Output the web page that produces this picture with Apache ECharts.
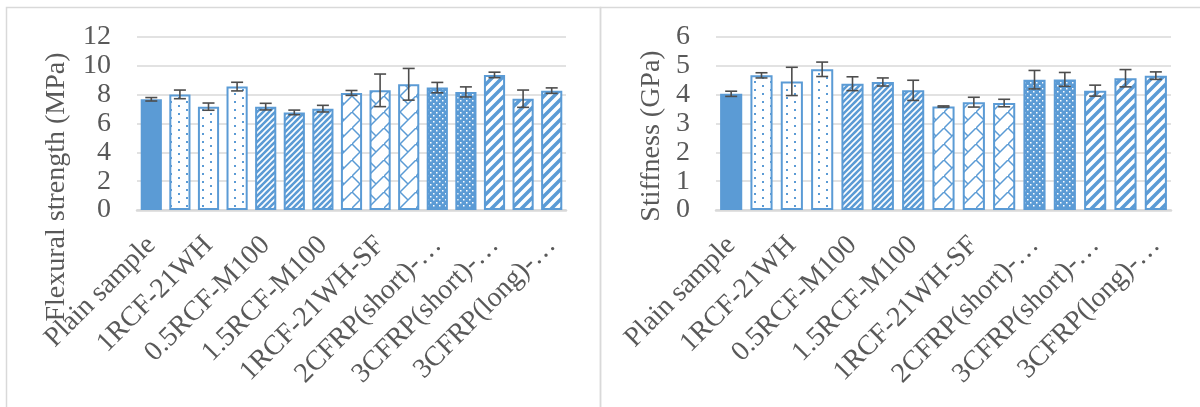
<!DOCTYPE html>
<html>
<head>
<meta charset="utf-8">
<script src="https://cdn.jsdelivr.net/npm/echarts@6/dist/echarts.min.js"></script>
<style>
  html, body { margin: 0; padding: 0; background: #ffffff; }
  #chart { width: 1200px; height: 407px; }
</style>
</head>
<body>
<div id="chart"></div>
<script>
// ==============================
// 数据
// ==============================
const categories = [
  'Plain sample', '0.5RCF-21WH', '1RCF-21WH', '1.5RCF-21WH',
  '0.5RCF-M100', '1RCF-M100', '1.5RCF-M100',
  '0.5RCF-21WH-SF', '1RCF-21WH-SF', '1.5RCF-21WH-SF',
  '2CFRP(short)-…', '2CFRP(long)-…', '3CFRP(short)-…', '3CFRP(mid)-…', '3CFRP(long)-…'
];

const flexMean = [7.68, 8.02, 7.17, 8.56, 7.17, 6.77, 7.03, 8.12, 8.30, 8.72, 8.49, 8.19, 9.37, 7.72, 8.28];
const flexErr  = [0.12, 0.30, 0.25, 0.30, 0.23, 0.16, 0.23, 0.17, 1.13, 1.10, 0.36, 0.35, 0.19, 0.60, 0.19];

const stiffMean = [4.03, 4.67, 4.46, 4.88, 4.38, 4.44, 4.15, 3.59, 3.74, 3.71, 4.52, 4.53, 4.14, 4.57, 4.66];
const stiffErr  = [0.09, 0.09, 0.49, 0.25, 0.24, 0.14, 0.35, 0.02, 0.17, 0.13, 0.32, 0.24, 0.19, 0.30, 0.13];

// 每根柱子的填充类型（按组）
const fillKinds = [
  'solid', 'sparseDots', 'sparseDots', 'sparseDots',
  'fineStripes', 'fineStripes', 'fineStripes',
  'brick', 'brick', 'brick',
  'denseDots', 'denseDots',
  'wideStripes', 'wideStripes', 'wideStripes'
];

const BLUE = '#5B9BD5';
const TEXT = '#595959';
const GRID = '#D9D9D9';
const FONT = '"Liberation Serif", "Times New Roman", serif';


// ==============================
// 图案
// ==============================
function makeCanvas(w, h, bg) {
  const c = document.createElement('canvas');
  c.width = w;
  c.height = h;
  const ctx = c.getContext('2d');
  ctx.fillStyle = bg;
  ctx.fillRect(0, 0, w, h);
  return { c, ctx };
}

function makePattern(kind) {
  if (kind === 'solid') return BLUE;

  if (kind === 'sparseDots') {
    const { c, ctx } = makeCanvas(16, 8, '#ffffff');
    ctx.fillStyle = BLUE;
    ctx.fillRect(2, 1, 2, 2);
    ctx.fillRect(10, 5, 2, 2);
    return { image: c, repeat: 'repeat' };
  }

  if (kind === 'denseDots') {
    const { c, ctx } = makeCanvas(6, 6, BLUE);
    ctx.fillStyle = '#ffffff';
    ctx.fillRect(1, 1, 1.5, 1.5);
    ctx.fillRect(4, 4, 1.5, 1.5);
    return { image: c, repeat: 'repeat' };
  }

  if (kind === 'fineStripes') {
    const { c, ctx } = makeCanvas(6, 6, BLUE);
    ctx.strokeStyle = '#ffffff';
    ctx.lineWidth = 1.6;
    ctx.beginPath();
    ctx.moveTo(-1, 7); ctx.lineTo(7, -1);
    ctx.moveTo(-1, 1); ctx.lineTo(1, -1);
    ctx.moveTo(5, 7); ctx.lineTo(7, 5);
    ctx.stroke();
    return { image: c, repeat: 'repeat' };
  }

  if (kind === 'wideStripes') {
    const { c, ctx } = makeCanvas(10, 10, '#ffffff');
    ctx.strokeStyle = BLUE;
    ctx.lineWidth = 3.5;
    ctx.beginPath();
    ctx.moveTo(-2, 12); ctx.lineTo(12, -2);
    ctx.moveTo(-2, 2); ctx.lineTo(2, -2);
    ctx.moveTo(8, 12); ctx.lineTo(12, 8);
    ctx.stroke();
    return { image: c, repeat: 'repeat' };
  }

  if (kind === 'brick') {
    const { c, ctx } = makeCanvas(16, 16, '#ffffff');
    ctx.strokeStyle = BLUE;
    ctx.lineWidth = 1.5;
    ctx.beginPath();
    ctx.moveTo(-1, 17); ctx.lineTo(17, -1);
    ctx.moveTo(0, 0); ctx.lineTo(8, 8);
    ctx.stroke();
    return { image: c, repeat: 'repeat' };
  }

  return BLUE;
}

const patterns = {};
fillKinds.forEach(k => { if (!patterns[k]) patterns[k] = makePattern(k); });


// ==============================
// 系列构造
// ==============================
function barData(values) {
  return values.map((v, i) => ({
    value: v,
    itemStyle: {
      color: patterns[fillKinds[i]],
      borderColor: BLUE,
      borderWidth: fillKinds[i] === 'solid' ? 0 : 2
    }
  }));
}

function errorData(means, errs) {
  return means.map((m, i) => [i, m, errs[i]]);
}

function renderErrorBar(params, api) {
  const x = api.value(0);
  const m = api.value(1);
  const e = api.value(2);
  const hi = api.coord([x, m + e]);
  const lo = api.coord([x, m - e]);
  const half = 6;
  const style = { stroke: '#4D4D4D', lineWidth: 1.6 };
  return {
    type: 'group',
    children: [
      { type: 'line', shape: { x1: hi[0], y1: hi[1], x2: lo[0], y2: lo[1] }, style },
      { type: 'line', shape: { x1: hi[0] - half, y1: hi[1], x2: hi[0] + half, y2: hi[1] }, style },
      { type: 'line', shape: { x1: lo[0] - half, y1: lo[1], x2: lo[0] + half, y2: lo[1] }, style }
    ]
  };
}

function xAxisFor(gridIndex) {
  return {
    type: 'category',
    gridIndex,
    data: categories,
    axisTick: { show: false },
    axisLine: { lineStyle: { color: GRID, width: 2.5 } },
    axisLabel: {
      interval: 1,
      rotate: 45,
      margin: 31,
      color: TEXT,
      fontFamily: FONT,
      fontSize: 28
    }
  };
}

function yAxisFor(gridIndex, max, interval) {
  return {
    type: 'value',
    gridIndex,
    min: 0,
    max,
    interval,
    axisLine: { show: false },
    axisTick: { show: false },
    splitLine: { lineStyle: { color: GRID, width: 1.5 } },
    axisLabel: {
      margin: 26,
      color: TEXT,
      fontFamily: FONT,
      fontSize: 28
    }
  };
}


// ==============================
// 初始化图表
// ==============================
const chart = echarts.init(document.getElementById('chart'), null, { renderer: 'canvas' });

chart.setOption({
  animation: false,
  backgroundColor: '#ffffff',
  grid: [
    { left: 137, top: 37, width: 429, height: 173 },
    { left: 716, top: 37, width: 455, height: 173 }
  ],
  xAxis: [xAxisFor(0), xAxisFor(1)],
  yAxis: [yAxisFor(0, 12, 2), yAxisFor(1, 6, 1)],
  series: [
    {
      type: 'bar',
      xAxisIndex: 0,
      yAxisIndex: 0,
      barCategoryGap: '26%',
      data: barData(flexMean)
    },
    {
      type: 'custom',
      xAxisIndex: 0,
      yAxisIndex: 0,
      renderItem: renderErrorBar,
      data: errorData(flexMean, flexErr),
      z: 5
    },
    {
      type: 'bar',
      xAxisIndex: 1,
      yAxisIndex: 1,
      barCategoryGap: '27%',
      data: barData(stiffMean)
    },
    {
      type: 'custom',
      xAxisIndex: 1,
      yAxisIndex: 1,
      renderItem: renderErrorBar,
      data: errorData(stiffMean, stiffErr),
      z: 5
    }
  ],
  graphic: [
    // 外框
    {
      type: 'rect',
      shape: { x: 6.5, y: 7.5, width: 594, height: 420 },
      style: { fill: 'none', stroke: GRID, lineWidth: 1.5 },
      silent: true
    },
    {
      type: 'rect',
      shape: { x: 600.5, y: 7.5, width: 620, height: 420 },
      style: { fill: 'none', stroke: GRID, lineWidth: 1.5 },
      silent: true
    },
    // 坐标轴标题
    {
      type: 'text',
      x: 57,
      y: 187,
      rotation: Math.PI / 2,
      z: 10,
      style: {
        text: 'Flexural strength (MPa)',
        font: '28px ' + FONT,
        fill: TEXT,
        textAlign: 'center',
        textVerticalAlign: 'middle',
        align: 'center',
        verticalAlign: 'middle'
      }
    },
    {
      type: 'text',
      x: 652,
      y: 136,
      rotation: Math.PI / 2,
      z: 10,
      style: {
        text: 'Stiffness (GPa)',
        font: '28px ' + FONT,
        fill: TEXT,
        textAlign: 'center',
        textVerticalAlign: 'middle',
        align: 'center',
        verticalAlign: 'middle'
      }
    }
  ]
});
</script>
</body>
</html>
